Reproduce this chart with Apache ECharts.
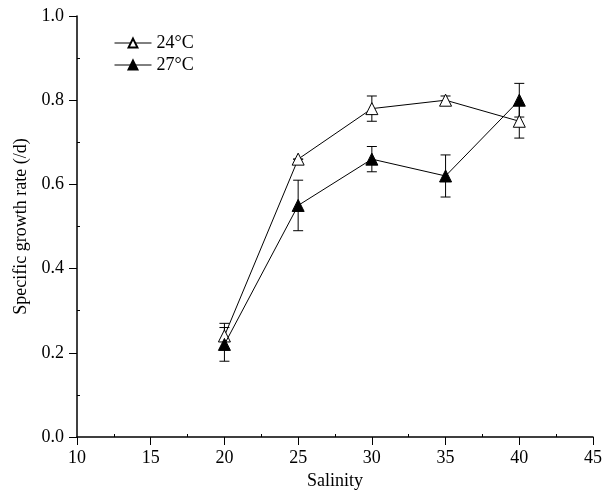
<!DOCTYPE html>
<html>
<head>
<meta charset="utf-8">
<script src="https://cdn.jsdelivr.net/npm/echarts@6/dist/echarts.min.js"></script>
<style>html,body{margin:0;padding:0;background:#fff}#c{width:613px;height:496px}</style>
</head>
<body>
<div id="c"></div>
<script>
const salinity = [20, 25, 30, 35, 40];
const rate24 = [0.24, 0.66, 0.78, 0.80, 0.75];
const err24 = [0.03, 0.00, 0.03, 0.01, 0.04];
const rate27 = [0.22, 0.55, 0.66, 0.62, 0.80];
const err27 = [0.04, 0.06, 0.03, 0.05, 0.04];
const seriesNames = ['24°C', '27°C'];

const FONT = 'Liberation Serif';

function errData(vals, errs) {
  return salinity.map((x, i) => [x, vals[i] - errs[i], vals[i] + errs[i]]);
}
function errRender(params, api) {
  const x = api.value(0);
  const lo = api.coord([x, api.value(1)]);
  const hi = api.coord([x, api.value(2)]);
  const w = 5;
  const st = { stroke: '#000', lineWidth: 1, fill: null };
  return {
    type: 'group',
    children: [
      { type: 'line', shape: { x1: lo[0], y1: lo[1], x2: hi[0], y2: hi[1] }, style: st },
      { type: 'line', shape: { x1: lo[0] - w, y1: lo[1], x2: lo[0] + w, y2: lo[1] }, style: st },
      { type: 'line', shape: { x1: hi[0] - w, y1: hi[1], x2: hi[0] + w, y2: hi[1] }, style: st }
    ]
  };
}

const chart = echarts.init(document.getElementById('c'), null, { renderer: 'canvas' });
chart.setOption({
  animation: false,
  backgroundColor: '#fff',
  textStyle: { fontFamily: FONT, color: '#000' },
  grid: { left: 77, right: 20, top: 16, bottom: 59 },
  legend: {
    orient: 'vertical',
    left: 109,
    top: 29,
    itemGap: 4,
    itemWidth: 37,
    itemHeight: 11,
    data: seriesNames,
    lineStyle: { width: 1 },
    textStyle: { fontFamily: FONT, fontSize: 18, color: '#000' }
  },
  xAxis: [{
    type: 'value', min: 10, max: 45, interval: 5,
    name: 'Salinity', nameLocation: 'middle', nameGap: 35,
    nameTextStyle: { fontFamily: FONT, fontSize: 18, color: '#000' },
    axisLine: { lineStyle: { color: '#000', width: 1.5 } },
    axisTick: { show: true, inside: false, length: 8, lineStyle: { color: '#000' } },
    minorTick: { show: false },
    axisLabel: { fontFamily: FONT, fontSize: 18, color: '#000', margin: 12 },
    splitLine: { show: false }
  }, {
    type: 'value', min: 10, max: 45, interval: 5, position: 'bottom', offset: 0,
    axisLine: { show: false },
    axisTick: { show: false, inside: true },
    minorTick: { show: true, splitNumber: 2, length: 3, lineStyle: { color: '#000' } },
    axisLabel: { show: false },
    splitLine: { show: false }
  }],
  yAxis: [{
    type: 'value', min: 0, max: 1.0, interval: 0.2,
    name: 'Specific growth rate (/d)', nameLocation: 'middle', nameGap: 47, nameRotate: 90,
    nameTextStyle: { fontFamily: FONT, fontSize: 18, color: '#000' },
    axisLine: { show: true, lineStyle: { color: '#000', width: 1.5 } },
    axisTick: { show: true, inside: false, length: 8, lineStyle: { color: '#000' } },
    minorTick: { show: false },
    axisLabel: { fontFamily: FONT, fontSize: 18, color: '#000', margin: 13, formatter: v => v.toFixed(1) },
    splitLine: { show: false }
  }, {
    type: 'value', min: 0, max: 1.0, interval: 0.2, position: 'left', offset: 0,
    axisLine: { show: false },
    axisTick: { show: false, inside: true },
    minorTick: { show: true, splitNumber: 2, length: 3, lineStyle: { color: '#000' } },
    axisLabel: { show: false },
    splitLine: { show: false }
  }],
  series: [
    {
      type: 'custom', name: 'err24', renderItem: errRender,
      data: errData(rate24, err24), encode: { x: 0, y: [1, 2] }, z: 1, silent: true
    },
    {
      type: 'custom', name: 'err27', renderItem: errRender,
      data: errData(rate27, err27), encode: { x: 0, y: [1, 2] }, z: 1, silent: true
    },
    {
      type: 'line', name: seriesNames[0],
      data: salinity.map((x, i) => [x, rate24[i]]),
      symbol: 'triangle', symbolSize: 12, showAllSymbol: true,
      lineStyle: { color: '#000', width: 1 },
      itemStyle: { color: '#fff', borderColor: '#000', borderWidth: 1 },
      z: 3
    },
    {
      type: 'line', name: seriesNames[1],
      data: salinity.map((x, i) => [x, rate27[i]]),
      symbol: 'triangle', symbolSize: 12, showAllSymbol: true,
      lineStyle: { color: '#000', width: 1 },
      itemStyle: { color: '#000', borderColor: '#000', borderWidth: 1 },
      z: 4
    }
  ]
});
</script>
</body>
</html>
